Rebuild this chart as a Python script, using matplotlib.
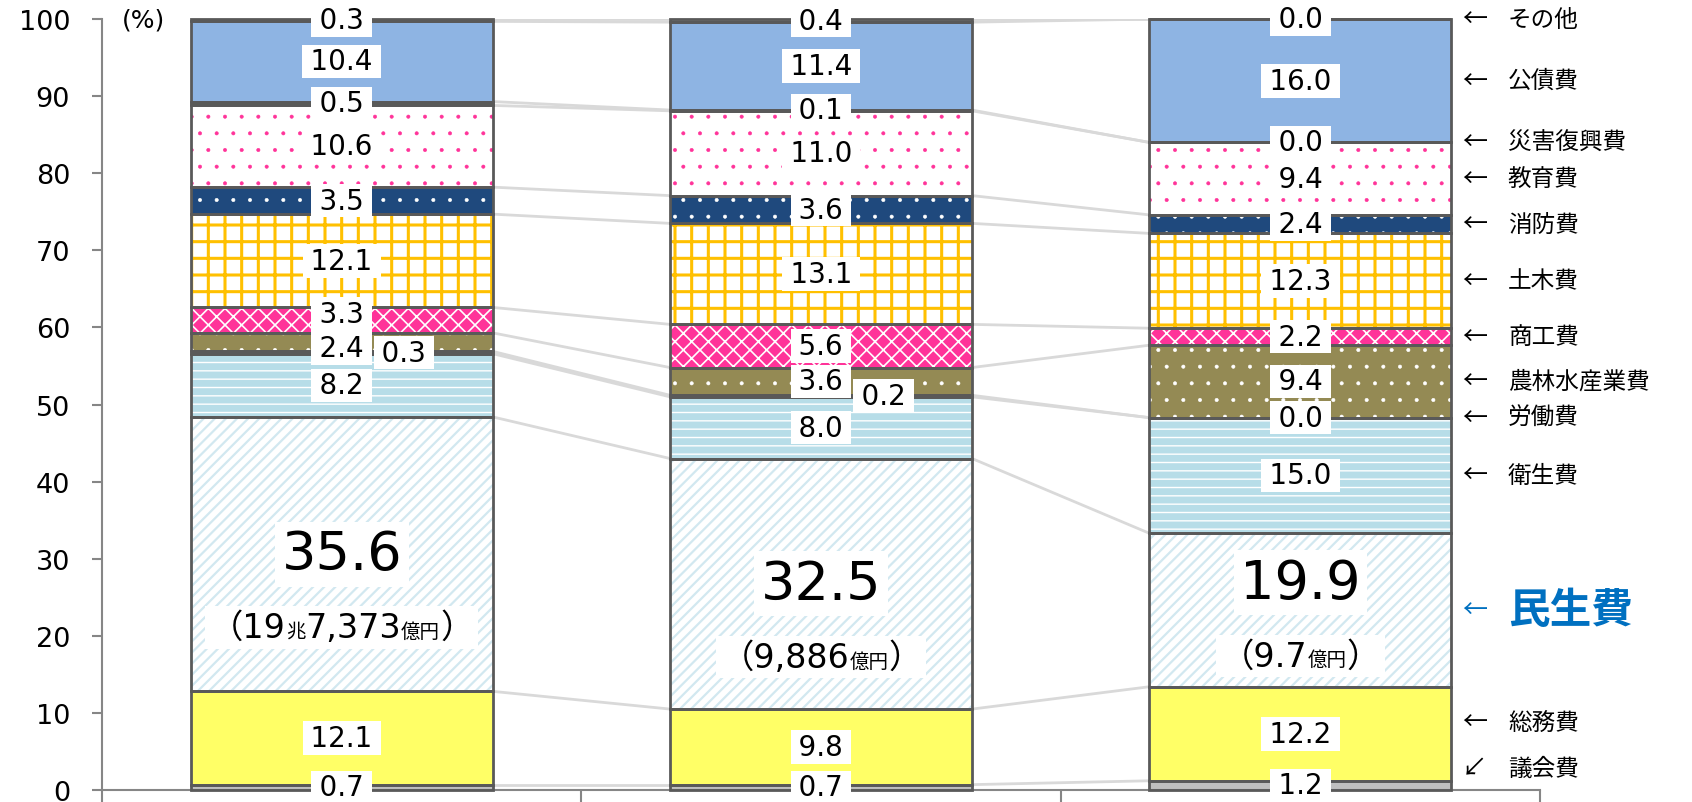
import matplotlib.pyplot as plt
import numpy as np
from matplotlib.offsetbox import TextArea, HPacker, AnnotationBbox

plt.rcParams['font.family'] = ['DejaVu Sans', 'Noto Sans CJK JP']

# expense items, bottom to top
items = ['議会費', '総務費', '民生費', '衛生費', '労働費', '農林水産業費', '商工費',
         '土木費', '消防費', '教育費', '災害復興費', '公債費', 'その他']

# share of each item (%) for the three bars
values_1 = [0.7, 12.1, 35.6, 8.2, 0.3, 2.4, 3.3, 12.1, 3.5, 10.6, 0.5, 10.4, 0.3]
values_2 = [0.7, 9.8, 32.5, 8.0, 0.2, 3.6, 5.6, 13.1, 3.6, 11.0, 0.1, 11.4, 0.4]
values_3 = [1.2, 12.2, 19.9, 15.0, 0.0, 9.4, 2.2, 12.3, 2.4, 9.4, 0.0, 16.0, 0.0]

# 民生費 amounts, alternating normal / small-unit pieces
welfare_amounts = [['（19', '兆', '7,373', '億円', '）'],
                   ['（9,886', '億円', '）'],
                   ['（9.7', '億円', '）']]

# facecolor, hatch, hatch colour, hatch linewidth per item
styles = {
    '議会費': ('#bfbfbf', None, None, 1),
    '総務費': ('#ffff66', None, None, 1),
    '民生費': ('white', '///', '#d2e8f0', 1.6),
    '衛生費': ('#b7dde8', '--', 'white', 1.0),
    '労働費': ('#8c8c8c', None, None, 1),
    '農林水産業費': ('#948a54', '.', 'white', 0.4),
    '商工費': ('#ff3399', 'xx', 'white', 1.2),
    '土木費': ('white', '+', '#ffc000', 2.2),
    '消防費': ('#1f497d', '.', 'white', 0.4),
    '教育費': ('white', '.', '#ff3399', 0.4),
    '災害復興費': ('#92d050', None, None, 1),
    '公債費': ('#8eb4e3', None, None, 1),
    'その他': ('#a6a6a6', None, None, 1),
}

data = np.array([values_1, values_2, values_3])
tops = np.cumsum(data, axis=1)
bottoms = tops - data
x = np.arange(3)
w = 0.63

fig = plt.figure(figsize=(16.92, 8.03), dpi=100)
ax = fig.add_axes([0.0603, 0.0149, 0.8499, 0.9601])

# light connector lines between neighbouring bars
for k in range(len(items)):
    for i in range(2):
        ax.plot([x[i] + w / 2, x[i + 1] - w / 2], [tops[i, k], tops[i + 1, k]],
                color='#d9d9d9', lw=2, zorder=1)

for k, name in enumerate(items):
    fc, hatch, hc, hlw = styles[name]
    with plt.rc_context({'hatch.linewidth': hlw}):
        bars = ax.bar(x, data[:, k], bottom=bottoms[:, k], width=w, color=fc,
                      hatch=hatch, edgecolor=hc if hc else fc, linewidth=0, zorder=2)
    for p in bars:
        if hasattr(p, 'set_hatch_linewidth'):
            p.set_hatch_linewidth(hlw)
    ax.bar(x, data[:, k], bottom=bottoms[:, k], width=w, fill=False,
           edgecolor='#595959', linewidth=2, zorder=3, clip_on=False)

# value labels
box = dict(boxstyle='square,pad=0.1', fc='white', ec='none')
labor_dx = [0.13, 0.13, 0.0]
min_gap = 4.4
for i in range(3):
    # centred labels, pushed apart where two of them would collide
    ys = {}
    prev = None
    for k, name in enumerate(items):
        if name == '民生費' or (name == '労働費' and labor_dx[i]):
            prev = None
            continue
        ys[k] = bottoms[i, k] + data[i, k] / 2
        if prev is not None and ys[k] - ys[prev] < min_gap:
            shift = (min_gap - (ys[k] - ys[prev])) / 2
            ys[prev] -= shift
            ys[k] += shift
        prev = k

    for k, name in enumerate(items):
        v = data[i, k]
        if name == '民生費':
            mid = bottoms[i, k] + v / 2
            y_num = max(mid, bottoms[i, k] + 13.5)
            ax.text(x[i], y_num, f'{v:.1f}', ha='center', va='center',
                    fontsize=39, bbox=dict(boxstyle='square,pad=0.12', fc='white', ec='none'),
                    zorder=5)
            parts = []
            for j, s in enumerate(welfare_amounts[i]):
                size = 24 if j % 2 == 0 else 14
                parts.append(TextArea(s, textprops=dict(fontsize=size)))
            pack = HPacker(children=parts, align='baseline', pad=0, sep=0)
            ab = AnnotationBbox(pack, (x[i], y_num - 9.5), frameon=True, pad=0.35,
                                bboxprops=dict(fc='white', ec='none'), zorder=5)
            ax.add_artist(ab)
            continue
        if k in ys:
            ax.text(x[i], ys[k], f'\u2009{v:.1f}\u2009', ha='center', va='center',
                    fontsize=20, bbox=box, zorder=5)
        else:
            ax.text(x[i] + labor_dx[i], bottoms[i, k] + v / 2, f'\u2009{v:.1f}\u2009',
                    ha='center', va='center', fontsize=20, bbox=box, zorder=5)

# item names on the right
x_arrow = 2.337
x_name = 2.433
name_nudge = {'総務費': 1.5, '議会費': 2.2}
for k, name in enumerate(items):
    y = bottoms[2, k] + data[2, k] / 2 + name_nudge.get(name, 0)
    if name == '民生費':
        ax.text(x_arrow, y, '←', fontsize=18, color='#0070c0', va='center',
                ha='left', family=['Noto Sans CJK JP'], clip_on=False)
        ax.text(x_name, y, name, fontsize=30, color='#0070c0', fontweight='bold',
                va='center', ha='left', family=['Noto Sans CJK JP'], clip_on=False)
        continue
    arrow = '↙' if name == '議会費' else '←'
    ax.text(x_arrow, y, arrow, fontsize=18, va='center', ha='left',
            family=['Noto Sans CJK JP', 'DejaVu Sans'], clip_on=False)
    ax.text(x_name, y, name, fontsize=17, va='center', ha='left',
            family=['Noto Sans CJK JP'], clip_on=False)

ax.text(-0.414, 100, '(%)', fontsize=18, ha='center', va='center')

ax.set_xlim(-0.5, 2.5)
ax.set_ylim(0, 100)
ax.set_yticks(np.arange(0, 101, 10))
ax.set_xticks([-0.5, 0.5, 1.5, 2.5])
ax.set_xticklabels([])
ax.tick_params(axis='y', labelsize=19.5, length=7, width=1.5, color='#868686', pad=16)
ax.tick_params(axis='x', length=10, width=1.5, color='#868686', direction='out')
for side in ['top', 'right']:
    ax.spines[side].set_visible(False)
for side in ['left', 'bottom']:
    ax.spines[side].set_color('#868686')
    ax.spines[side].set_linewidth(1.5)

fig.savefig('out.png', dpi=100)
